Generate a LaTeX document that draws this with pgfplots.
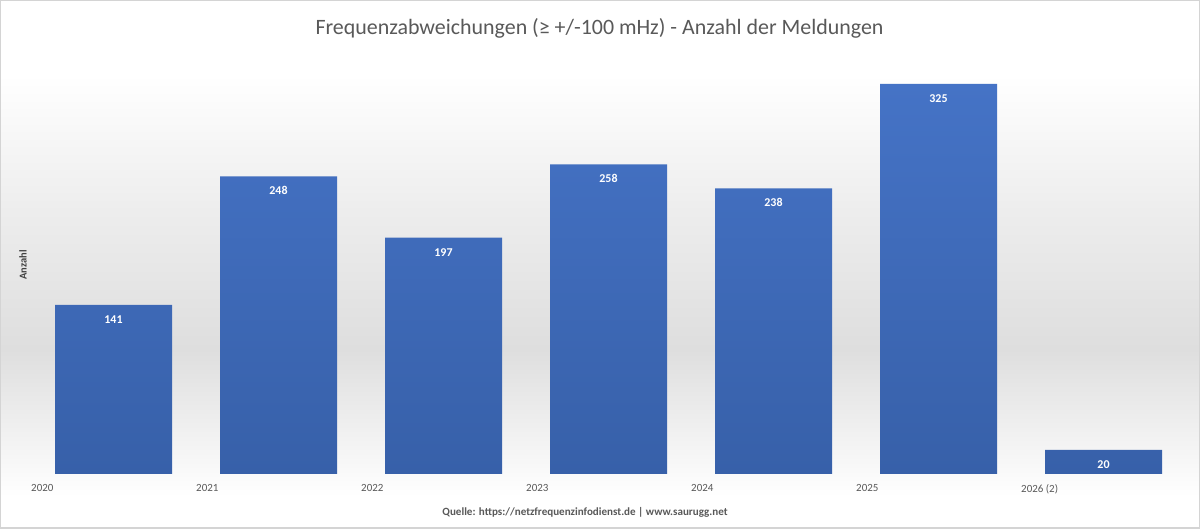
\documentclass[border=0pt]{standalone}
\usepackage{pgfplots}
\pgfplotsset{compat=1.18}
\usepackage{fontspec}
\setmainfont{Carlito}
\definecolor{titlegray}{HTML}{595959}
\definecolor{labgray}{HTML}{404040}
\definecolor{bartop}{HTML}{4573C6}
\definecolor{barbot}{HTML}{3760A9}
\definecolor{bgdark}{HTML}{DEDEDE}
\definecolor{bgmid}{HTML}{EDEDED}
\definecolor{bgborder}{HTML}{D4D4D4}
\pgfdeclareverticalshading{bgshade}{100bp}{color(0bp)=(white); color(28bp)=(white); color(42bp)=(bgdark); color(55bp)=(bgmid); color(68bp)=(white); color(100bp)=(white)}
\begin{document}
\begin{tikzpicture}[x=1bp,y=1bp]
\path[shading=bgshade, draw=bgborder, line width=1.5bp] (0.75,0.75) rectangle (1199.25,528.25);
\useasboundingbox (0,0) rectangle (1200,529);
\begin{axis}[
  anchor=origin, at={(113.5bp,55bp)},
  x=165bp, y=1.2bp,
  xmin=-0.5, xmax=6.5, ymin=0, ymax=345,
  axis line style={draw=none},
  major tick style={draw=none},
  ytick=\empty,
  xtick={-0.5,0.5,1.5,2.5,3.5,4.5,5.5},
  xticklabels={2020,2021,2022,2023,2024,2025,2026 (2)},
  xticklabel style={anchor=north west, inner sep=0pt, yshift=-10bp, font=\fontsize{11}{13}\selectfont, text=titlegray},
  /pgf/number format/assume math mode=true,
  clip=false,
]
\addplot[ybar, bar width=117bp, draw=none, top color=bartop, bottom color=barbot,
  nodes near coords,
  every node near coord/.append style={anchor=center, yshift=-14.5bp, inner sep=0pt, font=\bfseries\fontsize{12}{14}\selectfont, text=white}]
  coordinates {(0,141) (1,248) (2,197) (3,258) (4,238) (5,325) (6,20)};
\end{axis}
\node[anchor=base, font=\fontsize{22}{26}\selectfont, text=titlegray, inner sep=0pt] at (599.5,494) {Frequenzabweichungen (≥ +/-100 mHz) - Anzahl der Meldungen};
\node[anchor=base, font=\bfseries\fontsize{11.1}{14}\selectfont, text=titlegray, inner sep=0pt] at (585,13) {Quelle: https://netzfrequenzinfodienst.de | www.saurugg.net};
\node[rotate=90, font=\bfseries\fontsize{10.5}{12}\selectfont, text=labgray, inner sep=0pt] at (23,264) {Anzahl};
\end{tikzpicture}
\end{document}
